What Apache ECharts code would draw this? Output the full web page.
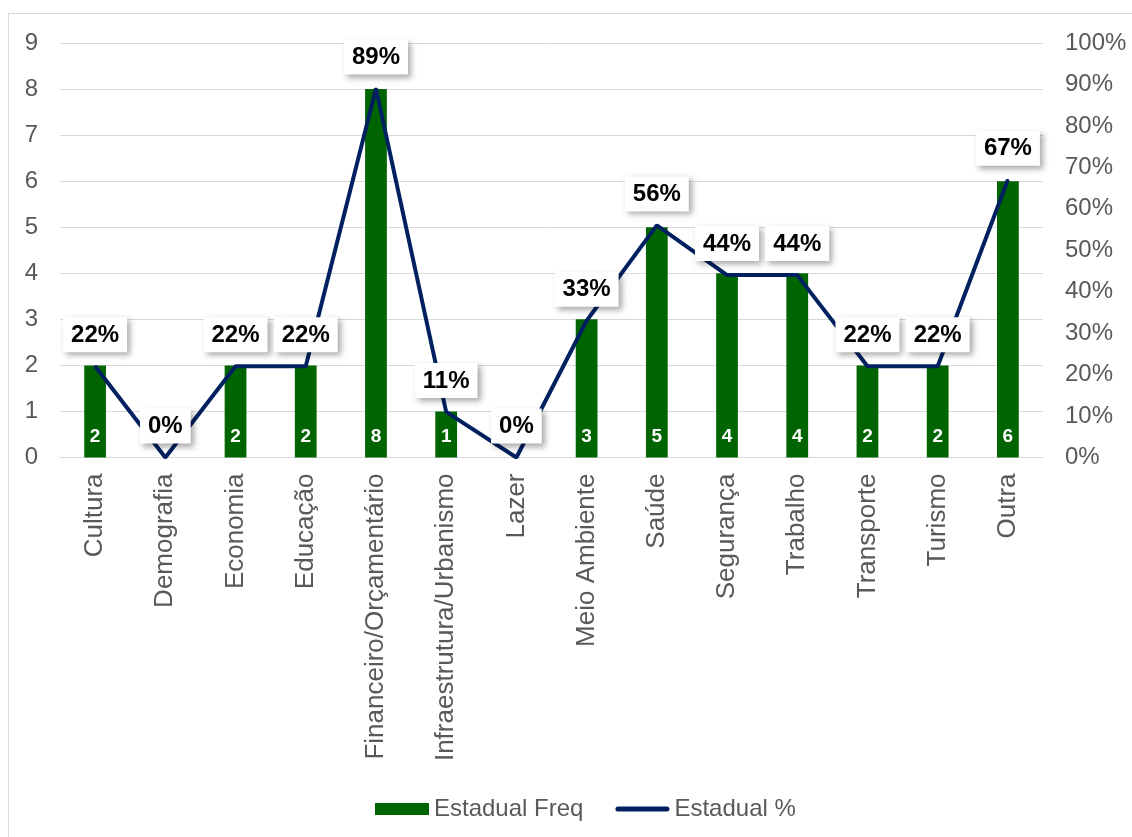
<!DOCTYPE html>
<html><head><meta charset="utf-8">
<script src="https://cdn.jsdelivr.net/npm/echarts@6/dist/echarts.min.js"></script>
<style>html,body{margin:0;padding:0;background:#fff;overflow:hidden;}#frame{position:absolute;left:8px;top:13px;width:1140px;height:850px;border:1px solid #d9d9d9;}#c{position:absolute;left:0;top:0;width:1132px;height:837px;}</style>
</head><body><div id="frame"></div><div id="c"></div>
<script>
const categories = ['Cultura','Demografia','Economia','Educação','Financeiro/Orçamentário','Infraestrutura/Urbanismo','Lazer','Meio Ambiente','Saúde','Segurança','Trabalho','Transporte','Turismo','Outra'];
const freq = [2,0,2,2,8,1,0,3,5,4,4,2,2,6];
const pct = [22,0,22,22,89,11,0,33,56,44,44,22,22,67];
const font = 'Liberation Sans, Arial, sans-serif';
const chart = echarts.init(document.getElementById('c'));
chart.setOption({
  animation:false,
  textStyle:{fontFamily:font},
  grid:{left:60,right:89,top:43,bottom:379.5},
  legend:{bottom:11,left:370,itemGap:32,itemWidth:54,itemHeight:12,
    textStyle:{fontSize:24,color:'#595959',fontFamily:font},
    data:[{name:'Estadual Freq',icon:'rect'},{name:'Estadual %',icon:'path://M2.5,0H51.5A2.5,2.5 0 0 1 51.5,5H2.5A2.5,2.5 0 0 1 2.5,0Z'}]},
  xAxis:{type:'category',data:categories,
    axisLine:{lineStyle:{color:'#d9d9d9',width:1}},axisTick:{show:false},
    axisLabel:{rotate:90,fontSize:26,color:'#595959',margin:16,interval:0,fontFamily:font}},
  yAxis:[
    {type:'value',min:0,max:9,interval:1,
      axisLine:{show:false},axisTick:{show:false},
      splitLine:{lineStyle:{color:'#d9d9d9',width:1}},
      axisLabel:{fontSize:24,color:'#595959',margin:22,fontFamily:font}},
    {type:'value',min:0,max:100,interval:10,
      axisLine:{show:false},axisTick:{show:false},splitLine:{show:false},
      axisLabel:{fontSize:24,color:'#595959',margin:22,formatter:'{value}%',fontFamily:font}}
  ],
  series:[
    {name:'Estadual Freq',type:'bar',data:freq,barWidth:'31%',
      itemStyle:{color:'#006400'},
      label:{show:true,position:'insideBottom',distance:11,color:'#fff',fontSize:19,fontWeight:'bold',fontFamily:font,
        formatter:p=>p.value>0?p.value:''}},
    {name:'Estadual %',type:'line',yAxisIndex:1,data:pct,symbol:'circle',symbolSize:2,showSymbol:true,
      lineStyle:{color:'#002060',width:4},itemStyle:{color:'#002060'},
      label:{show:true,position:'top',distance:13,formatter:'{c}%',color:'#000',fontSize:24,fontWeight:'bold',fontFamily:font,
        lineHeight:24,backgroundColor:'#fff',padding:[6,8,5,8],
        shadowBlur:6,shadowColor:'rgba(0,0,0,0.35)',shadowOffsetX:3,shadowOffsetY:3}}
  ]
});
</script></body></html>
